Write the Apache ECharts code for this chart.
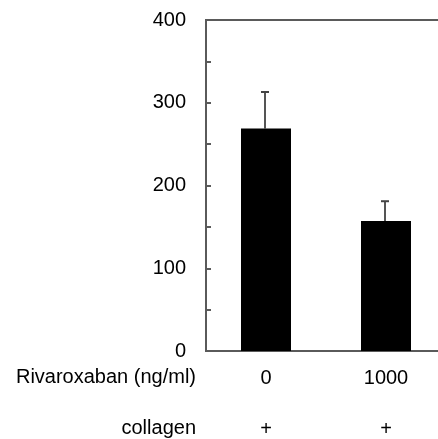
<!DOCTYPE html>
<html>
<head>
<meta charset="utf-8">
<script src="https://cdn.jsdelivr.net/npm/echarts@6/dist/echarts.min.js"></script>
<style>
html,body{margin:0;padding:0;background:#fff;}
#chart{width:438px;height:439px;}
</style>
</head>
<body>
<div id="chart"></div>
<script>
const categories = ['0', '1000'];
const collagenRow = ['+', '+'];
const rowLabels = ['Rivaroxaban (ng/ml)', 'collagen'];
const means = [269, 157];
const errors = [44, 24];
const yTicks = [0, 100, 200, 300, 400];

const FONT = '"Liberation Sans", Arial, sans-serif';
const TXT = '#000';
const AX = '#5a5a5a';

const chart = echarts.init(document.getElementById('chart'));
chart.setOption({
  animation: false,
  backgroundColor: '#fff',
  grid: {
    left: 206, top: 20, width: 240, height: 331,
    show: true, borderColor: AX, borderWidth: 2, backgroundColor: 'transparent',
    outerBoundsMode: 'none'
  },
  xAxis: [{
    type: 'category',
    data: categories,
    axisLine: { show: true, lineStyle: { color: AX, width: 2 } },
    axisTick: { show: false },
    axisLabel: { fontSize: 20, fontFamily: FONT, color: TXT, margin: 17 }
  }, {
    type: 'category',
    data: collagenRow,
    position: 'bottom',
    axisLine: { show: false },
    axisTick: { show: false },
    axisLabel: { fontSize: 20, fontFamily: FONT, color: TXT, margin: 68 }
  }],
  yAxis: {
    type: 'value',
    min: yTicks[0], max: yTicks[yTicks.length - 1], interval: 100,
    axisLine: { show: true, lineStyle: { color: AX, width: 2 } },
    axisTick: { show: true, inside: true, length: 5, lineStyle: { color: AX, width: 2 } },
    minorTick: { show: true, splitNumber: 2, length: 5, lineStyle: { color: AX, width: 2 } },
    splitLine: { show: false },
    axisLabel: { fontSize: 20, fontFamily: FONT, color: TXT, margin: 20 }
  },
  graphic: [{
    type: 'text', right: 438 - 196, top: 367,
    style: { text: rowLabels[0], font: '20px ' + FONT, fill: TXT, textAlign: 'right' }
  }, {
    type: 'text', right: 438 - 196, top: 418,
    style: { text: rowLabels[1], font: '20px ' + FONT, fill: TXT, textAlign: 'right' }
  }],
  series: [{
    type: 'bar',
    data: means,
    barWidth: 50,
    itemStyle: { color: '#000' },
    z: 2
  }, {
    type: 'custom',
    data: means.map((m, i) => [i, m, m + errors[i]]),
    renderItem: function (params, api) {
      const base = api.coord([api.value(0), api.value(1)]);
      const top = api.coord([api.value(0), api.value(2)]);
      const x = Math.round(base[0]) - 1;
      return {
        type: 'group',
        children: [{
          type: 'line',
          shape: { x1: x, y1: base[1], x2: x, y2: top[1] },
          style: { stroke: '#555', lineWidth: 2 }
        }, {
          type: 'line',
          shape: { x1: x - 4, y1: top[1], x2: x + 4, y2: top[1] },
          style: { stroke: '#444', lineWidth: 2 }
        }]
      };
    },
    z: 1
  }]
});
</script>
</body>
</html>
